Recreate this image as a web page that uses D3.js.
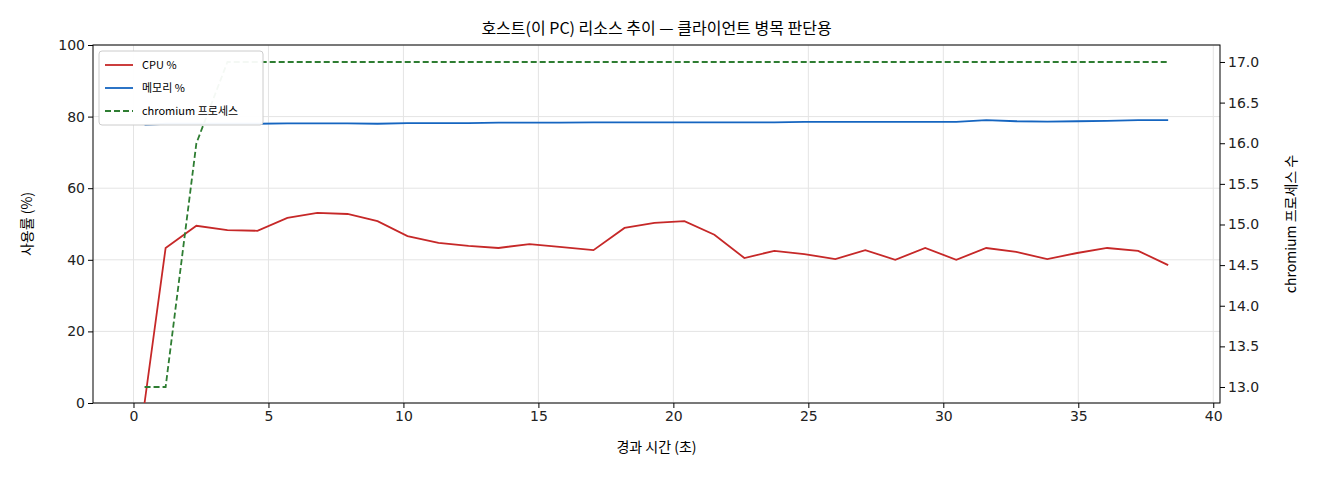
<!DOCTYPE html>
<html><head><meta charset="utf-8">
<script src="https://cdn.jsdelivr.net/npm/d3@7"></script>
<style>body{margin:0;background:#fff;font-family:"Noto Sans CJK KR","Noto Sans",sans-serif}</style>
</head><body><svg id="c" width="1320" height="480"></svg>
<script>
const xPx=[145,166,197,228,258,288,318,348,378,408,439,469,499,530,560,594,625,655,685,715,745,775,805,836,866,896,926,957,987,1017,1048,1078,1108,1139,1169];
const times=xPx.map(p=>+((p-134)/27).toFixed(2));
const cpu=[0,43.3,49.5,48.3,48.1,51.7,53.1,52.8,50.8,46.6,44.7,43.9,43.3,44.4,43.6,42.7,48.9,50.3,50.8,47,40.5,42.5,41.6,40.2,42.7,40,43.3,40,43.3,42.2,40.2,41.9,43.3,42.5,38.5];
const mem=[77.7,78.0,78.0,78.0,78.0,78.1,78.1,78.1,78.0,78.2,78.2,78.2,78.3,78.3,78.3,78.4,78.4,78.4,78.4,78.4,78.4,78.4,78.4,78.5,78.5,78.5,78.5,78.5,78.5,78.5,79.0,78.7,78.6,78.7,78.8,79.0,79.0].filter((d,i)=>i!==22&&i!==29);
const procs=[13,13,16,17,17,17,17,17,17,17,17,17,17,17,17,17,17,17,17,17,17,17,17,17,17,17,17,17,17,17,17,17,17,17,17];
const xTicks=[0,5,10,15,20,25,30,35,40], yTicks=[0,20,40,60,80,100], y2Ticks=[13,13.5,14,14.5,15,15.5,16,16.5,17];
const svg=d3.select("#c"), L=93,R=1220,T=45,B=403;
const x=d3.scaleLinear([-1.5,40.25],[L,R]);
const y=d3.scaleLinear([0,100],[B,T]);
const y2=d3.scaleLinear([12.803,17.209],[B,T]);
const g=svg.append("g");
xTicks.forEach(t=>g.append("line").attr("x1",x(t)).attr("x2",x(t)).attr("y1",T).attr("y2",B).attr("stroke","#e4e4e4"));
yTicks.forEach(t=>g.append("line").attr("x1",L).attr("x2",R).attr("y1",y(t)).attr("y2",y(t)).attr("stroke","#e4e4e4"));
const ax=(sel,a)=>{sel.call(a);sel.selectAll("text").attr("font-size",14).attr("fill","#222").attr("font-family","DejaVu Sans");sel.select(".domain").remove();};
svg.append("g").attr("transform",`translate(0,${B})`).call(s=>ax(s,d3.axisBottom(x).tickValues(xTicks).tickSize(5)));
svg.append("g").attr("transform",`translate(${L},0)`).call(s=>ax(s,d3.axisLeft(y).tickValues(yTicks).tickSize(5)));
svg.append("g").attr("transform",`translate(${R},0)`).call(s=>ax(s,d3.axisRight(y2).tickValues(y2Ticks).tickFormat(d3.format(".1f")).tickSize(5)));
svg.append("rect").attr("x",L).attr("y",T).attr("width",R-L).attr("height",B-T).attr("fill","none").attr("stroke","#000");
const line=(ys,sc)=>d3.line().x((d,i)=>x(times[i])).y(d=>sc(d))(ys);
svg.append("path").attr("d",line(cpu,y)).attr("fill","none").attr("stroke","#c62828").attr("stroke-width",1.8);
svg.append("path").attr("d",line(mem,y)).attr("fill","none").attr("stroke","#1565c0").attr("stroke-width",1.8);
svg.append("path").attr("d",line(procs,y2)).attr("fill","none").attr("stroke","#2e7d32").attr("stroke-width",1.8).attr("stroke-dasharray","6,3");
svg.append("text").attr("x",(L+R)/2).attr("y",34).attr("text-anchor","middle").attr("font-size",16).text("호스트(이 PC) 리소스 추이 — 클라이언트 병목 판단용");
svg.append("text").attr("x",(L+R)/2).attr("y",452).attr("text-anchor","middle").attr("font-size",14).text("경과 시간 (초)");
svg.append("text").attr("transform",`translate(32,${(T+B)/2}) rotate(-90)`).attr("text-anchor","middle").attr("font-size",14).text("사용률 (%)");
svg.append("text").attr("transform",`translate(1296,${(T+B)/2}) rotate(-90)`).attr("text-anchor","middle").attr("font-size",14).text("chromium 프로세스 수");
const lg=svg.append("g").attr("transform","translate(99,51)");
lg.append("rect").attr("width",164).attr("height",74).attr("rx",3).attr("fill","#fff").attr("fill-opacity",0.95).attr("stroke","#ccc");
[["CPU %","#c62828",null],["메모리 %","#1565c0",null],["chromium 프로세스","#2e7d32","6,3"]].forEach((d,i)=>{
 const yy=14+i*23;
 lg.append("line").attr("x1",6).attr("x2",34).attr("y1",yy).attr("y2",yy).attr("stroke",d[1]).attr("stroke-width",1.8).attr("stroke-dasharray",d[2]);
 lg.append("text").attr("x",43).attr("y",yy+4).attr("font-size",11).text(d[0]);
});
</script></body></html>
